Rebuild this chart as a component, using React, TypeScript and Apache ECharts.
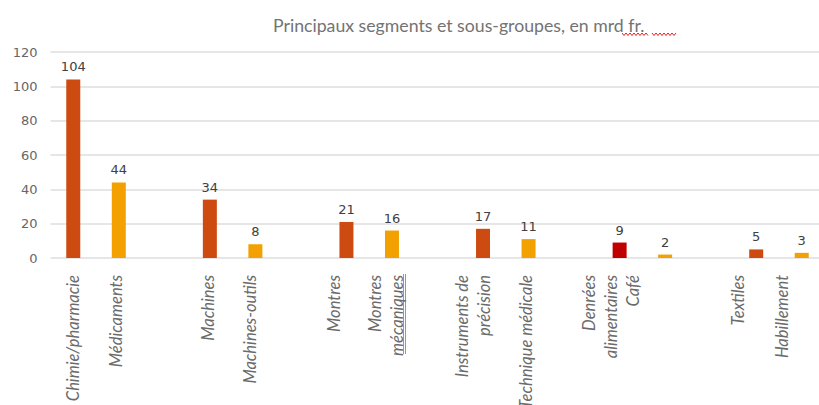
import React, { useEffect, useRef } from "react";
import * as echarts from "echarts";

const categories = [
  "Chimie/pharmacie", "Médicaments", "",
  "Machines", "Machines-outils", "",
  "Montres", "Montres\nmécaniques", "",
  "Instruments de\nprécision", "Technique médicale", "",
  "Denrées\nalimentaires", "Café", "",
  "Textiles", "Habillement",
];
const values: (number | null)[] = [
  104, 44, null,
  34, 8, null,
  21, 16, null,
  17, 11, null,
  9, 2, null,
  5, 3,
];
const kinds = [
  "segment", "sous", "",
  "segment", "sous", "",
  "segment", "sous", "",
  "segment", "sous", "",
  "denrees", "sous", "",
  "segment", "sous",
];
const yTicks = { min: 0, max: 120, interval: 20 };
const titleText = "Principaux segments et sous-groupes, en mrd fr.";

const kindColors: Record<string, string> = {
  segment: "#CD4A10",
  sous: "#F2A100",
  denrees: "#C00000",
};
// horizontal shift (px, leftwards) of each category label, as in the reference
const labelShift = [0, 3, 0, 2, 5, 0, 12, 6, 0, 10, 3, 0, 20, 32, 0, 18, 20];

export default function App() {
  const ref = useRef<HTMLDivElement>(null);
  useEffect(() => {
    if (!ref.current) return;
    const chart = echarts.init(ref.current, undefined, { renderer: "svg" });
    const zig: number[][] = [];
    for (let x = 622; x <= 648; x += 2) zig.push([x, x % 4 === 2 ? 33 : 35.5]);
    const zig2: number[][] = [];
    for (let x = 652; x <= 676; x += 2) zig2.push([x, x % 4 === 0 ? 33 : 35.5]);
    const rich: Record<string, any> = {};
    labelShift.forEach((d, i) => {
      if (d > 0) rich["g" + i] = { fontSize: 1, lineHeight: d * 2, height: d * 2 };
    });
    chart.setOption({
      animation: false,
      title: {
        text: titleText,
        left: 268,
        top: 11,
        textStyle: {
          fontFamily: "Lato",
          fontWeight: "normal",
          fontSize: 17.7,
          color: "#737373",
        },
      },
      grid: {
        left: 50.5,
        right: -5.5,
        top: 52,
        bottom: 147,
        containLabel: false,
        outerBoundsMode: "none",
      },
      xAxis: {
        type: "category",
        data: categories,
        axisLine: { show: false },
        axisTick: { show: false },
        axisLabel: {
          interval: 0,
          rotate: 90,
          margin: 17,
          fontFamily: "Lato",
          fontStyle: "italic",
          fontSize: 16.5,
          lineHeight: 22,
          color: "#6b6b6b",
          formatter: (v: string, i: number) =>
            v && labelShift[i] > 0 ? v + "\n{g" + i + "| }" : v,
          rich,
        },
      },
      yAxis: {
        type: "value",
        min: yTicks.min,
        max: yTicks.max,
        interval: yTicks.interval,
        axisLine: { show: false },
        axisTick: { show: false },
        axisLabel: {
          margin: 13,
          fontFamily: "DejaVu Sans",
          fontSize: 13,
          color: "#666666",
        },
        splitLine: { lineStyle: { color: "#dedede", width: 1.5 } },
      },
      series: [
        {
          type: "bar",
          barWidth: 14,
          data: values.map((v, i) => ({
            value: v,
            itemStyle: { color: kindColors[kinds[i]] || "#000" },
          })),
          label: {
            show: true,
            position: "top",
            distance: 6,
            fontFamily: "DejaVu Sans",
            fontSize: 13,
            color: "#404040",
          },
        },
      ],
      graphic: [
        { type: "polyline", shape: { points: zig }, style: { stroke: "#e02020", lineWidth: 1, fill: null } },
        { type: "polyline", shape: { points: zig2 }, style: { stroke: "#e02020", lineWidth: 1, fill: null } },
        { type: "line", shape: { x1: 403.5, y1: 274, x2: 403.5, y2: 354 }, style: { stroke: "#6f9be8", lineWidth: 1 } },
        { type: "line", shape: { x1: 405.5, y1: 274, x2: 405.5, y2: 354 }, style: { stroke: "#6f9be8", lineWidth: 1 } },
      ],
    });
    return () => chart.dispose();
  }, []);
  return (
    <div
      ref={ref}
      style={{ position: "absolute", left: 0, top: 0, width: 819, height: 405 }}
    />
  );
}
